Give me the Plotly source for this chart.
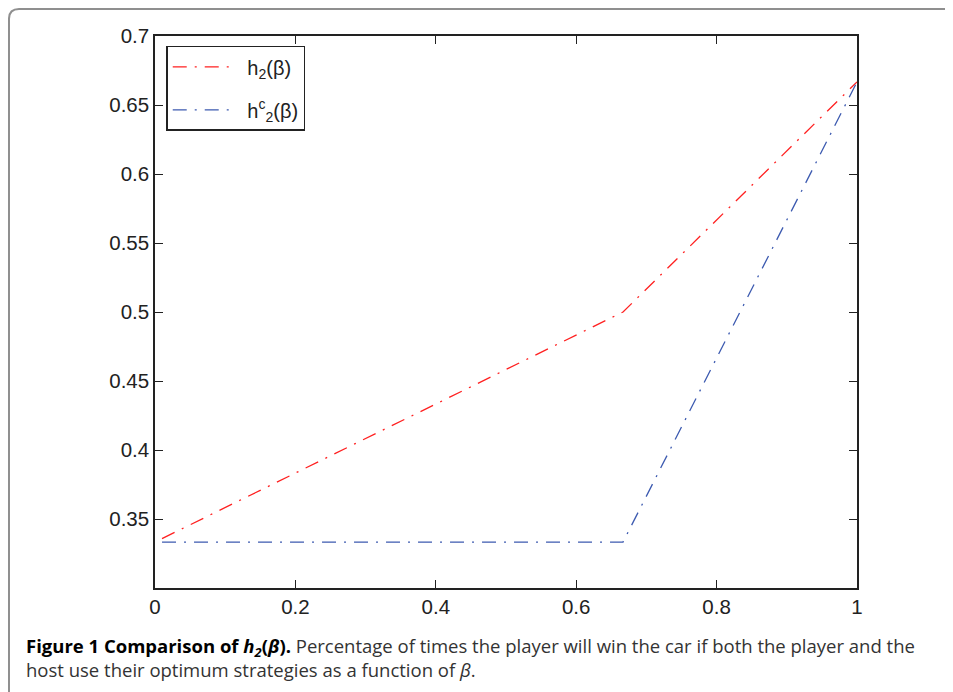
import plotly.graph_objects as go

# Data
beta = [0.01, 0.6667, 1.0]
h2 = [0.3358, 0.5, 0.6667]
h2c = [0.3333, 0.3333, 0.6667]

x_ticks = [0, 0.2, 0.4, 0.6, 0.8, 1]
x_labels = ["0", "0.2", "0.4", "0.6", "0.8", "1"]
y_ticks = [0.35, 0.4, 0.45, 0.5, 0.55, 0.6, 0.65, 0.7]
y_labels = ["0.35", "0.4", "0.45", "0.5", "0.55", "0.6", "0.65", "0.7"]

DASH = "14px,8px,2px,8px"

fig = go.Figure()
fig.add_trace(go.Scatter(x=beta, y=h2, mode="lines", name="\u00a0h<sub>2</sub>(β)",
                         legendgroup="a",
                         line=dict(color="#ff2020", width=1.3, dash=DASH)))
fig.add_trace(go.Scatter(x=beta, y=h2c, mode="lines", name="\u00a0h<sup>c</sup><sub>2</sub>(β)",
                         legendgroup="b",
                         line=dict(color="#3c5ab0", width=1.3, dash=DASH)))

axis_font = dict(family="Liberation Sans, Arial, sans-serif", size=20.5, color="#222")
fig.update_xaxes(range=[0, 1], tickvals=x_ticks, ticktext=x_labels,
                 ticks="inside", ticklen=8, tickcolor="#222", mirror="allticks",
                 showline=True, linecolor="#222", linewidth=1.5,
                 showgrid=False, zeroline=False, tickfont=axis_font)
fig.update_yaxes(range=[0.3, 0.7], tickvals=y_ticks, ticktext=y_labels,
                 ticks="inside", ticklen=8, tickcolor="#222", mirror="allticks",
                 showline=True, linecolor="#222", linewidth=1.5,
                 showgrid=False, zeroline=False, tickfont=axis_font)

caption = ("<b>Figure 1 Comparison of <i>h<sub>2</sub></i>(<i>β</i>).</b> "
           "<span style='color:#333'>Percentage of times the player will win the car if both the player and the</span><br>"
           "<span style='color:#333'>host use their optimum strategies as a function of <i>β</i>.</span>")
fig.add_annotation(text=caption, xref="paper", yref="paper", x=-0.1866, y=-0.078,
                   xanchor="left", yanchor="top", align="left", showarrow=False,
                   font=dict(family="Open Sans, sans-serif", size=18.5, color="#000"))

# outer frame (rounded corner on the left)
fig.add_shape(type="path", xref="paper", yref="paper",
              path="M -0.208 -0.35 L -0.208 1.0308 Q -0.208 1.0489 -0.1937 1.0489 L 1.2 1.0489",
              line=dict(color="#8f8f8f", width=2))

fig.update_layout(
    width=945, height=684,
    margin=dict(l=147, r=96, t=28, b=104),
    plot_bgcolor="white", paper_bgcolor="white",
    showlegend=True,
    legend=dict(x=0.016, y=0.982, xanchor="left", yanchor="top",
                bgcolor="white", bordercolor="#222", borderwidth=1.5,
                font=dict(family="Liberation Sans, Arial, sans-serif", size=20, color="#222"),
                itemwidth=64, tracegroupgap=14),
)

fig.write_html("out.html")
